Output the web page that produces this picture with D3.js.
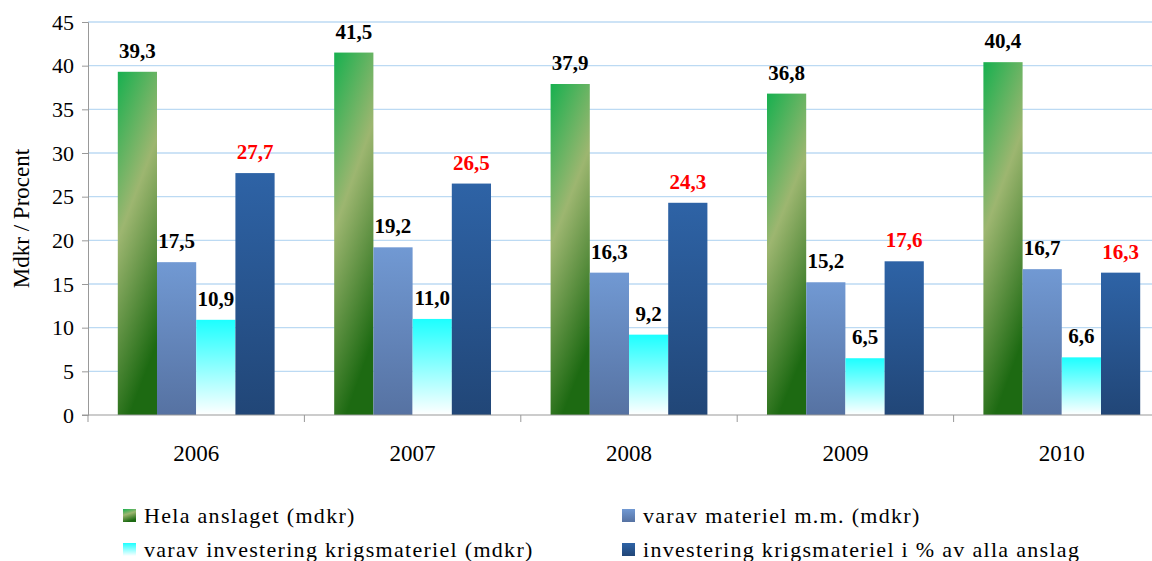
<!DOCTYPE html>
<html><head><meta charset="utf-8">
<script src="https://cdn.jsdelivr.net/npm/d3@7"></script>
<style>body{margin:0;background:#fff}svg{display:block}text{font-family:"Liberation Serif","Times New Roman",serif}</style>
</head><body>
<script>
const years = ["2006","2007","2008","2009","2010"];
const seriesNames = ["Hela anslaget (mdkr)","varav materiel m.m. (mdkr)","varav investering krigsmateriel (mdkr)","investering krigsmateriel i % av alla anslag"];
const hela = [39.3, 41.5, 37.9, 36.8, 40.4];
const materiel = [17.5, 19.2, 16.3, 15.2, 16.7];
const investering = [10.9, 11.0, 9.2, 6.5, 6.6];
const procent = [27.7, 26.5, 24.3, 17.6, 16.3];
const yTicks = [0,5,10,15,20,25,30,35,40,45];
const yTitle = "Mdkr / Procent";

const W=1152,H=561;
const m={l:88,r:-18,t:22,b:146};
const svg=d3.select("body").append("svg").attr("width",W).attr("height",H);
const defs=svg.append("defs");
function grad(id,stops,x1,y1,x2,y2){
  const g=defs.append("linearGradient").attr("id",id).attr("x1",x1).attr("y1",y1).attr("x2",x2).attr("y2",y2);
  stops.forEach(s=>g.append("stop").attr("offset",s[0]).attr("stop-color",s[1]));
}
grad("g0",[[0,"#17b04f"],[0.45,"#9db670"],[1,"#1d6a12"]],"0","0","0.3","1");
grad("g1",[[0,"#7199d3"],[1,"#5672a2"]],"0","0","0","1");
grad("g2",[[0,"#1cffff"],[1,"#ffffff"]],"0","0","0","1");
grad("g3",[[0,"#2e63a6"],[1,"#214677"]],"0","0","0","1");
const fills=["url(#g0)","url(#g1)","url(#g2)","url(#g3)"];

const x0=d3.scaleBand().domain(years).range([m.l,W-m.r]).paddingInner(0).paddingOuter(0);
const x1=d3.scaleBand().domain(d3.range(4)).range([0,x0.bandwidth()]).paddingOuter(0.76).paddingInner(0);
const y=d3.scaleLinear().domain([0,45]).range([H-m.b,m.t]);

svg.append("g").selectAll("line").data(yTicks.filter(d=>d>0)).join("line")
  .attr("x1",m.l).attr("x2",W).attr("y1",d=>y(d)).attr("y2",d=>y(d))
  .attr("stroke","#bcdaf3").attr("stroke-width",1.3);

const data=[hela,materiel,investering,procent];
const g=svg.append("g");
years.forEach((yr,i)=>{
  data.forEach((arr,s)=>{
    const v=arr[i];
    const bx=x0(yr)+x1(s);
    g.append("rect").attr("x",bx).attr("y",y(v)).attr("width",x1.bandwidth()).attr("height",y(0)-y(v)).attr("fill",fills[s]);
    g.append("text").attr("x",bx+x1.bandwidth()/2).attr("y",y(v)-14).attr("text-anchor","middle")
      .attr("font-weight","bold").attr("font-size",21)
      .attr("fill",s===3?"#ff0000":"#000").text(v.toFixed(1).replace(".",","));
  });
});

const ya=svg.append("g").attr("transform",`translate(${m.l},0)`).call(d3.axisLeft(y).tickValues(yTicks).tickSize(6).tickPadding(8));
ya.select(".domain").attr("stroke","#999");
ya.selectAll(".tick line").attr("stroke","#999");
ya.selectAll("text").attr("font-family",null).attr("font-size",22).attr("fill","#000");
const xa=svg.append("g").attr("transform",`translate(0,${y(0)})`);
xa.append("line").attr("x1",m.l-6).attr("x2",W).attr("stroke","#999");
xa.selectAll(".sep").data(years).join("line").attr("x1",d=>x0(d)).attr("x2",d=>x0(d)).attr("y1",0).attr("y2",7).attr("stroke","#999");
xa.selectAll(".yl").data(years).join("text").attr("x",d=>x0(d)+x0.bandwidth()/2).attr("y",46)
  .attr("text-anchor","middle").attr("font-size",23).text(d=>d);

svg.append("text").attr("transform",`translate(29,${(y(0)+y(45))/2}) rotate(-90)`).attr("text-anchor","middle")
  .attr("font-size",23).text(yTitle);

const lx=[123,622], ly=[515,549];
seriesNames.forEach((n,i)=>{
  const gx=lx[i%2], gy=ly[Math.floor(i/2)];
  svg.append("rect").attr("x",gx).attr("y",gy-6).attr("width",13).attr("height",13).attr("fill",fills[i]);
  svg.append("text").attr("x",gx+21).attr("y",gy+8).attr("font-size",22).attr("letter-spacing",1.3).text(n);
});
</script>
</body></html>
